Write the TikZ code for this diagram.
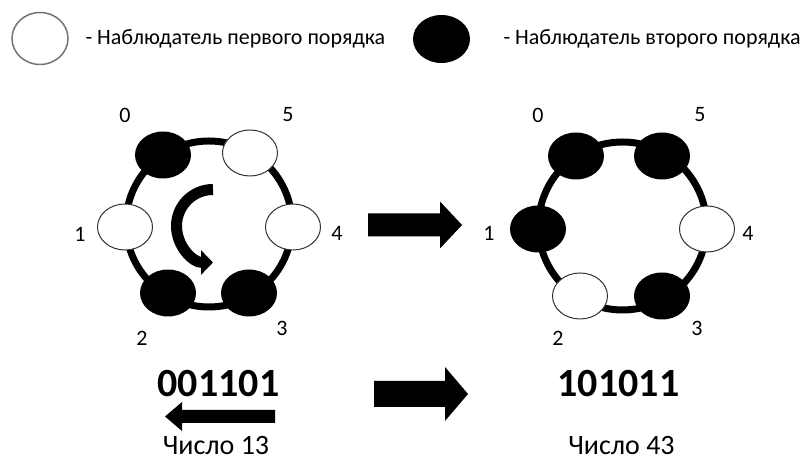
\documentclass[tikz,border=0pt]{standalone}
\usepackage{fontspec}
\setmainfont{Carlito}
\usetikzlibrary{arrows.meta, shapes.geometric}

\begin{document}
\begin{tikzpicture}[
        x=1pt, y=1pt,
        >={Triangle[length=12pt,width=24pt]},
        every node/.style={font=\fontsize{22}{26}\selectfont},
        first/.style={ellipse, draw=black!80, line width=1pt, fill=white, minimum width=55pt, minimum height=46pt, inner sep=0pt},
        second/.style={ellipse, fill=black, minimum width=56pt, minimum height=47pt, inner sep=0pt}
    ]
    \useasboundingbox (0,0) rectangle (804,462);
    % legend
    \node[first, draw=black!55, line width=1.5pt, minimum width=56pt, minimum height=52pt] (legw) at (40,423.5) {};
    \node[anchor=base west] (legwt) at (82,417) {- Наблюдатель первого порядка};
    \node[second, minimum width=57pt, minimum height=48pt] (legb) at (441.5,423) {};
    \node[anchor=base west] (legbt) at (500,417) {- Наблюдатель второго порядка};
    % left ring
    \draw[line width=7pt] (209,238) circle (83);
    \node[second] (A0) at (163,307) {};
    \node[first] (A5) at (250,309) {};
    \node[first] (A1) at (125,235) {};
    \node[first] (A4) at (293,235) {};
    \node[second] (A2) at (168,169) {};
    \node[second] (A3) at (249,169) {};
    \node (a0) at (125,347) {0};
    \node (a5) at (288,347) {5};
    \node (a1) at (80,228) {1};
    \node (a4) at (337,229) {4};
    \node (a2) at (142,124) {2};
    \node (a3) at (282,134) {3};
    \draw[->, line width=11pt] (213,272.5) arc[start angle=90, end angle=270, radius=36.5];
    % right ring
    \draw[line width=7pt] (622.5,236) circle (84);
    \node[second] (B0) at (576,306) {};
    \node[second] (B5) at (662,306) {};
    \node[second] (B1) at (538,233) {};
    \node[first] (B4) at (707,233) {};
    \node[first] (B2) at (580,166) {};
    \node[second] (B3) at (662,166) {};
    \node (b0) at (538,347) {0};
    \node (b5) at (700,347) {5};
    \node (b1) at (489,229) {1};
    \node (b4) at (748,229) {4};
    \node (b2) at (558,124) {2};
    \node (b3) at (697,134) {3};
    % block arrows
    \fill (368,225.5) -- (440,225.5) -- (440,213.5) -- (462,237) -- (440,260.5) -- (440,248.5) -- (368,248.5) -- cycle;
    \fill (374,55) -- (445,55) -- (445,41) -- (468,68) -- (445,95) -- (445,81) -- (374,81) -- cycle;
    \fill (275,39) -- (182,39) -- (182,31) -- (165,45.5) -- (182,60) -- (182,52) -- (275,52) -- cycle;
    % numbers
    \node[font=\fontsize{40}{48}\selectfont\bfseries] (bin13) at (218.5,78) {001101};
    \node[font=\fontsize{40}{48}\selectfont\bfseries] (bin43) at (618.5,78) {101011};
    \node[font=\fontsize{28}{34}\selectfont, inner sep=1pt] (num13) at (216,16) {Число 13};
    \node[font=\fontsize{28}{34}\selectfont, inner sep=1pt] (num43) at (621.5,16) {Число 43};
\end{tikzpicture}
\end{document}
